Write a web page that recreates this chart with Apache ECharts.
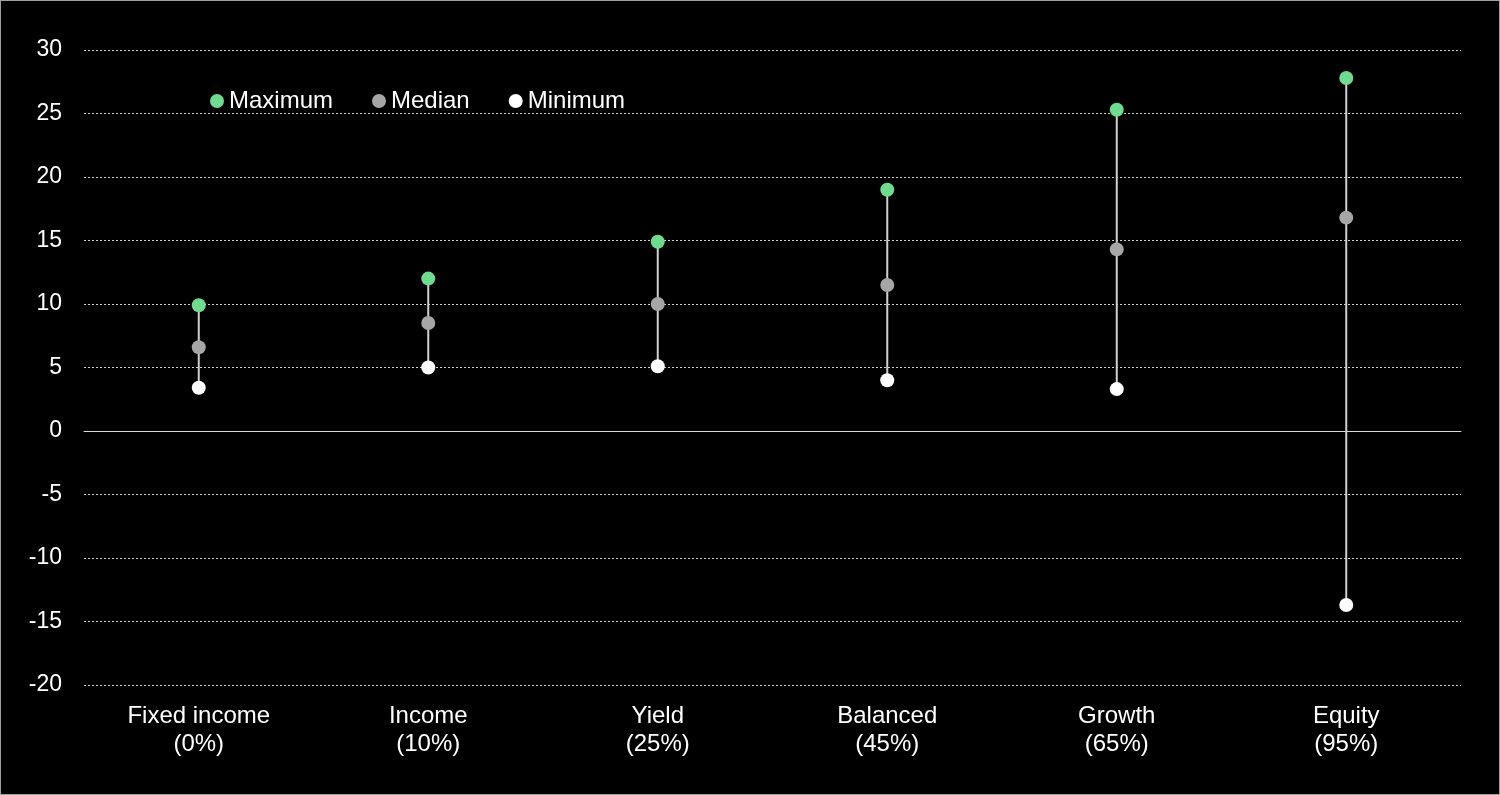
<!DOCTYPE html>
<html><head><meta charset="utf-8">
<script src="https://cdn.jsdelivr.net/npm/echarts@6/dist/echarts.min.js"></script>
<style>html,body{margin:0;padding:0;background:#000;}#c{width:1500px;height:795px;box-sizing:border-box;border:1px solid #a0a0a0;}</style>
</head><body><div id="c"></div>
<script>
const categories = ['Fixed income\n(0%)','Income\n(10%)','Yield\n(25%)','Balanced\n(45%)','Growth\n(65%)','Equity\n(95%)'];
const maximum = [9.9, 12.0, 14.9, 19.0, 25.3, 27.8];
const median = [6.6, 8.5, 10.0, 11.5, 14.3, 16.8];
const minimum = [3.4, 5.0, 5.1, 4.0, 3.3, -13.7];
const yTicks = {min: -20, max: 30, interval: 5};

const chart = echarts.init(document.getElementById('c'));
const font = 'Liberation Sans, Arial, sans-serif';
chart.setOption({
  backgroundColor: '#000',
  animation: false,
  grid: {left: 83, right: 38, top: 49, bottom: 109, containLabel: false},
  legend: {
    left: 209, top: 88, padding: 0, itemWidth: 14, itemHeight: 14, itemGap: 39, icon: 'circle',
    textStyle: {color: '#fff', fontSize: 24, fontFamily: font},
    data: ['Maximum','Median','Minimum']
  },
  xAxis: {
    type: 'category', data: categories,
    axisLine: {onZero: true, lineStyle: {color: '#d9d9d9', width: 1}},
    axisTick: {show: false},
    axisLabel: {color: '#fff', fontSize: 24, fontFamily: font, lineHeight: 28, margin: 17, interval: 0}
  },
  yAxis: {
    type: 'value', min: yTicks.min, max: yTicks.max, interval: yTicks.interval,
    axisLine: {show: false}, axisTick: {show: false},
    axisLabel: {color: '#fff', fontSize: 23, fontFamily: font, margin: 22},
    splitLine: {lineStyle: {color: '#d0d0d0', type: [2, 2], width: 1}}
  },
  series: [
    {
      type: 'custom', name: 'range', silent: true, z: 1,
      data: categories.map((c, i) => [i, minimum[i], maximum[i]]),
      renderItem: function (params, api) {
        const p1 = api.coord([api.value(0), api.value(1)]);
        const p2 = api.coord([api.value(0), api.value(2)]);
        return {type: 'line', shape: {x1: p1[0], y1: p1[1], x2: p2[0], y2: p2[1]},
          style: {stroke: '#d0d0d0', lineWidth: 2}};
      }
    },
    {type: 'scatter', name: 'Maximum', data: maximum, symbolSize: 14, itemStyle: {color: '#6fdb8f', opacity: 1}, z: 3},
    {type: 'scatter', name: 'Median', data: median, symbolSize: 14, itemStyle: {color: '#a6a6a6', opacity: 1}, z: 3},
    {type: 'scatter', name: 'Minimum', data: minimum, symbolSize: 14, itemStyle: {color: '#ffffff', opacity: 1}, z: 3}
  ]
});
</script></body></html>
